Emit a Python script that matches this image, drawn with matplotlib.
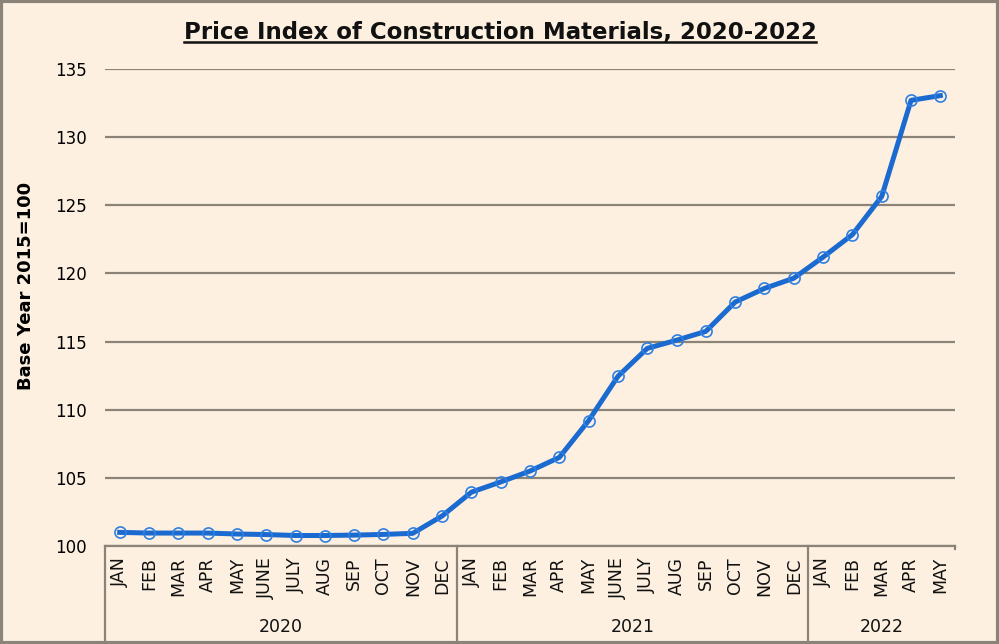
import matplotlib
matplotlib.use("Agg")
import matplotlib.pyplot as plt
from matplotlib.lines import Line2D
from matplotlib.patches import Rectangle
import matplotlib.transforms as mtransforms

plt.rcParams['font.family'] = ['DejaVu Sans']

years = ["2020", "2021", "2022"]
months_2020 = ["JAN", "FEB", "MAR", "APR", "MAY", "JUNE", "JULY", "AUG", "SEP", "OCT", "NOV", "DEC"]
months_2021 = ["JAN", "FEB", "MAR", "APR", "MAY", "JUNE", "JULY", "AUG", "SEP", "OCT", "NOV", "DEC"]
months_2022 = ["JAN", "FEB", "MAR", "APR", "MAY"]
values_2020 = [101.0, 100.95, 100.95, 100.95, 100.88, 100.84, 100.77, 100.77, 100.8, 100.85, 100.93, 102.2]
values_2021 = [103.95, 104.7, 105.5, 106.5, 109.2, 112.45, 114.5, 115.1, 115.75, 117.9, 118.9, 119.65]
values_2022 = [121.2, 122.85, 125.65, 132.7, 133.05]
yticks = [100, 105, 110, 115, 120, 125, 130, 135]

labels = months_2020 + months_2021 + months_2022
values = values_2020 + values_2021 + values_2022
groups = [months_2020, months_2021, months_2022]

W, H = 999, 644
bg = '#FDF0E0'
grid_c = '#8B8378'

fig = plt.figure(figsize=(W / 100, H / 100), dpi=100, facecolor=bg)
ax = fig.add_axes([105 / W, (H - 546) / H, 850 / W, 477 / H])
ax.set_facecolor(bg)

n = len(values)
xs = [i + 0.5 for i in range(n)]
ax.plot(xs, values, color='#1B6AD0', lw=3.6, solid_joinstyle='round', zorder=3)
ax.plot(xs, values, ls='none', marker='o', ms=8, mfc='none', mec='#2F80E2', mew=1.2, zorder=4)

ax.set_xlim(0, n)
ax.set_ylim(100, 135)
ax.set_yticks(yticks)
ax.set_yticklabels([str(v) for v in yticks], fontsize=12)
ax.tick_params(axis='y', length=0, pad=13)
ax.set_xticks([])
for s in ['top', 'right', 'left']:
    ax.spines[s].set_visible(False)
ax.spines['bottom'].set_color(grid_c)
ax.spines['bottom'].set_linewidth(1.6)
ax.yaxis.grid(True, color=grid_c, lw=1.6)
ax.set_axisbelow(True)

trans = mtransforms.blended_transform_factory(ax.transData, ax.transAxes)
ax_h = 477
def ay(py):
    return (546 - py) / ax_h

for i, lab in enumerate(labels):
    ax.text(i + 0.5, ay(557), lab, transform=trans, rotation=90, ha='center', va='top',
            fontsize=12.5, color='#111111')

# group dividers and year labels
start = 0
bounds = [0]
for g in groups:
    start += len(g)
    bounds.append(start)
for b in bounds[:-1]:
    ax.add_line(Line2D([b, b], [0, ay(640)], transform=trans, color=grid_c, lw=1.6, clip_on=False))
ax.add_line(Line2D([bounds[-1], bounds[-1]], [0, ay(549)], transform=trans, color=grid_c, lw=1.6, clip_on=False))
for k, y in enumerate(years):
    ax.text((bounds[k] + bounds[k + 1]) / 2, ay(627), y, transform=trans, ha='center', va='center',
            fontsize=12.5, color='#111111')

ax.set_ylabel("Base Year 2015=100", fontsize=13, fontweight='bold')
ax.yaxis.set_label_coords(-(105 - 35) / 850, (546 - 286) / 477)

title = fig.text(500 / W, 1 - 38.5 / H, "Price Index of Construction Materials, 2020-2022",
                 ha='center', va='baseline', fontsize=16.5, fontweight='bold', color='#111111')
fig.canvas.draw()
bb = title.get_window_extent()
uy = H - 41.5
fig.add_artist(Line2D([bb.x0 / W, bb.x1 / W], [uy / H, uy / H], transform=fig.transFigure,
                      color='#111111', lw=1.8))

fig.add_artist(Rectangle((0.0015, 0.002), 0.997, 0.996, transform=fig.transFigure,
                         fill=False, edgecolor=grid_c, lw=3))

fig.savefig("out.png", dpi=100, facecolor=bg)
